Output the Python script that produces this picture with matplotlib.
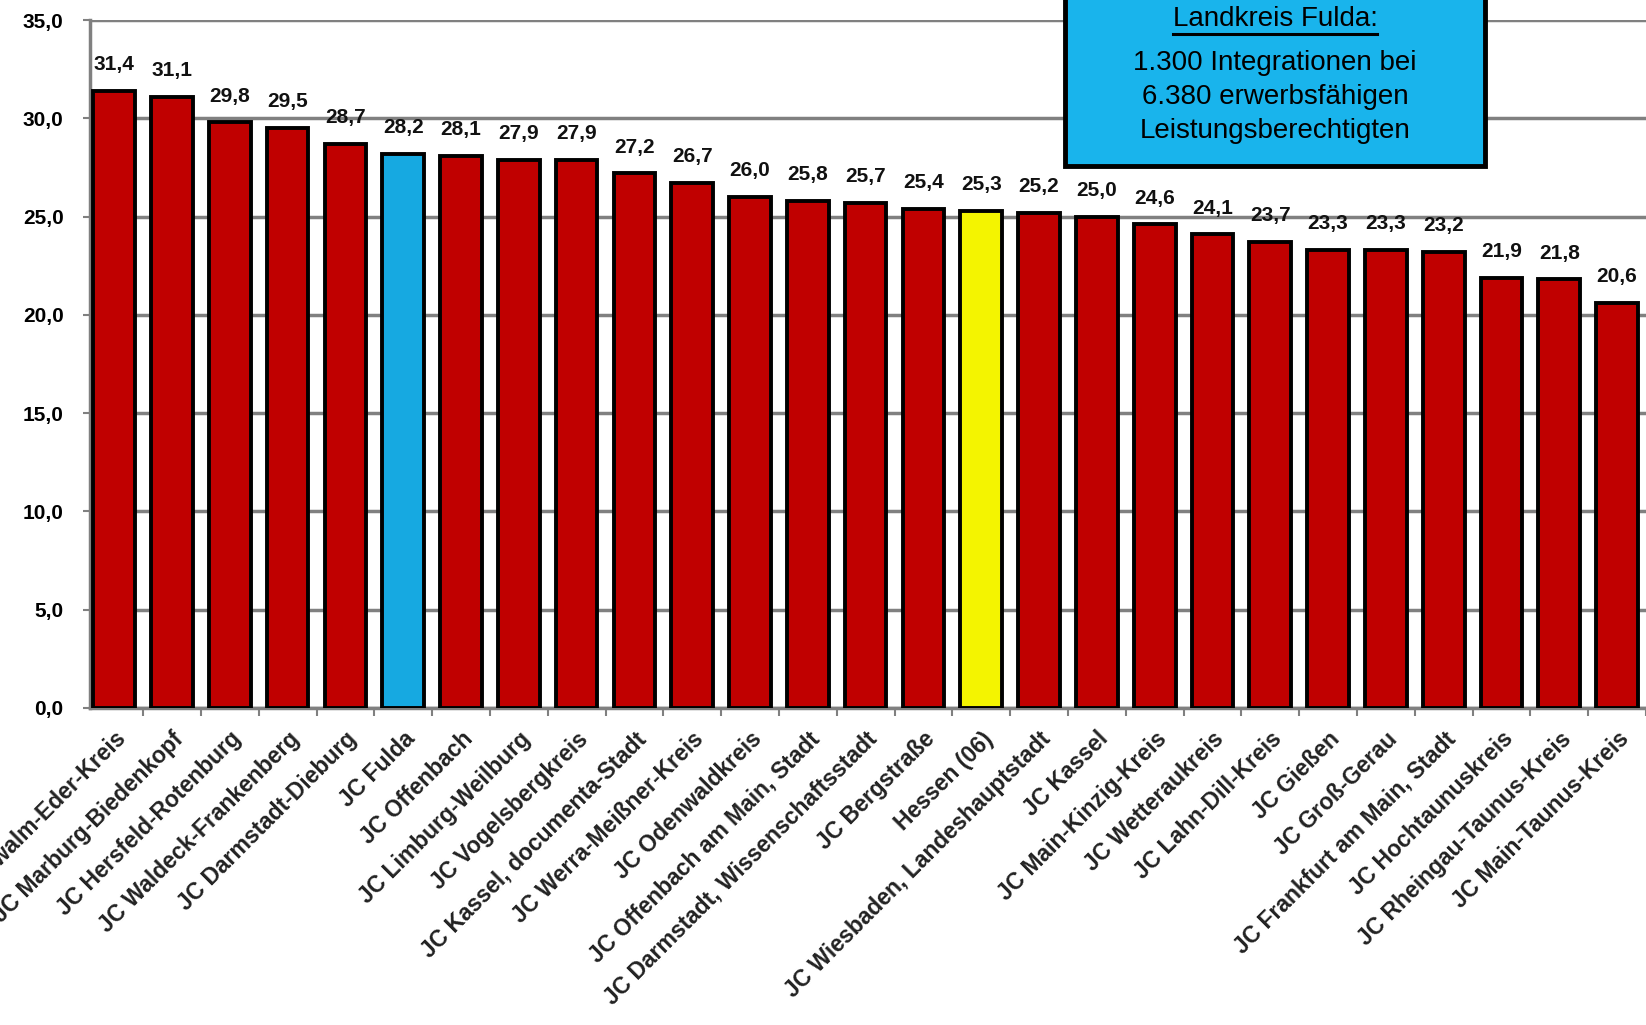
import matplotlib
matplotlib.use("Agg")
import matplotlib.pyplot as plt
from matplotlib.patches import Rectangle
from matplotlib.ticker import FixedLocator, MultipleLocator
from matplotlib.transforms import ScaledTranslation

categories = [
    "JC Schwalm-Eder-Kreis", "JC Marburg-Biedenkopf", "JC Hersfeld-Rotenburg",
    "JC Waldeck-Frankenberg", "JC Darmstadt-Dieburg", "JC Fulda", "JC Offenbach",
    "JC Limburg-Weilburg", "JC Vogelsbergkreis", "JC Kassel, documenta-Stadt",
    "JC Werra-Meißner-Kreis", "JC Odenwaldkreis", "JC Offenbach am Main, Stadt",
    "JC Darmstadt, Wissenschaftsstadt", "JC Bergstraße", "Hessen (06)",
    "JC Wiesbaden, Landeshauptstadt", "JC Kassel", "JC Main-Kinzig-Kreis",
    "JC Wetteraukreis", "JC Lahn-Dill-Kreis", "JC Gießen", "JC Groß-Gerau",
    "JC Frankfurt am Main, Stadt", "JC Hochtaunuskreis", "JC Rheingau-Taunus-Kreis",
    "JC Main-Taunus-Kreis",
]
values = [31.4, 31.1, 29.8, 29.5, 28.7, 28.2, 28.1, 27.9, 27.9, 27.2, 26.7, 26.0,
          25.8, 25.7, 25.4, 25.3, 25.2, 25.0, 24.6, 24.1, 23.7, 23.3, 23.3, 23.2,
          21.9, 21.8, 20.6]
highlight = {"JC Fulda": "#16A9E1", "Hessen (06)": "#F4F400"}
yticks = [0, 5, 10, 15, 20, 25, 30, 35]
box_lines = ["Landkreis Fulda:", "1.300 Integrationen bei", "6.380 erwerbsfähigen",
             "Leistungsberechtigten"]

plt.rcParams['font.family'] = ['Liberation Sans', 'DejaVu Sans']

W, H = 1646, 1025
fig = plt.figure(figsize=(W / 100, H / 100), dpi=100)
ax = fig.add_axes([90 / W, (H - 708) / H, 1 - 90 / W, (708 - 20) / H])

colors = [highlight.get(c, "#C00000") for c in categories]
x = list(range(len(categories)))
ax.bar(x, values, width=0.72, color=colors, edgecolor="black", linewidth=2.8, zorder=3)

for xi, v in zip(x, values):
    ax.text(xi, v + 0.85, f"{v:.1f}".replace(".", ","), ha="center", va="bottom",
            fontsize=15, fontweight="bold", color="#111111")

ax.set_xlim(-0.42, len(categories) - 0.5)
ax.set_ylim(0, 35)
ax.yaxis.set_major_locator(FixedLocator(yticks))
ax.set_yticklabels([f"{t:.1f}".replace(".", ",") for t in yticks], fontsize=15, fontweight="bold")
ax.grid(axis="y", color="#808080", linewidth=2.5, zorder=0)

ax.set_xticks(x)
ax.set_xticklabels(categories, rotation=45, ha="right", rotation_mode="anchor",
                   fontsize=16.5, fontweight="bold", color="#222222")
off = ScaledTranslation(-14 / 72, 0, fig.dpi_scale_trans)
for lbl in ax.get_xticklabels():
    lbl.set_transform(lbl.get_transform() + off)
ax.tick_params(axis="x", which="major", length=0, pad=14)
ax.xaxis.set_minor_locator(MultipleLocator(1, offset=0.5))
ax.tick_params(axis="x", which="minor", length=6, color="#808080", width=1.5)
ax.tick_params(axis="y", length=5, color="#808080", width=1.5, pad=14)

for s in ["top", "right"]:
    ax.spines[s].set_visible(False)
for s in ["left", "bottom"]:
    ax.spines[s].set_color("#808080")
    ax.spines[s].set_linewidth(2.5)

# Info box
x0, x1 = 1065 / W, 1485 / W
y0 = (H - 166) / H
fig.patches.append(Rectangle((x0, y0), x1 - x0, 1.05 - y0, transform=fig.transFigure,
                             facecolor="#19B4EC", edgecolor="black", linewidth=3.5, zorder=10))
cx = (x0 + x1) / 2
ys = [19, 63, 97, 131]
texts = []
for line, yy in zip(box_lines, ys):
    texts.append(fig.text(cx, 1 - yy / H, line, ha="center", va="center", fontsize=20, zorder=11))

fig.canvas.draw()
bb = texts[0].get_window_extent()
uy = (bb.y0 - 2) / H
fig.add_artist(plt.Line2D([bb.x0 / W, bb.x1 / W], [uy, uy], color="black",
                          linewidth=2.2, transform=fig.transFigure, zorder=11))

fig.savefig("out.png", dpi=100, facecolor="white")
